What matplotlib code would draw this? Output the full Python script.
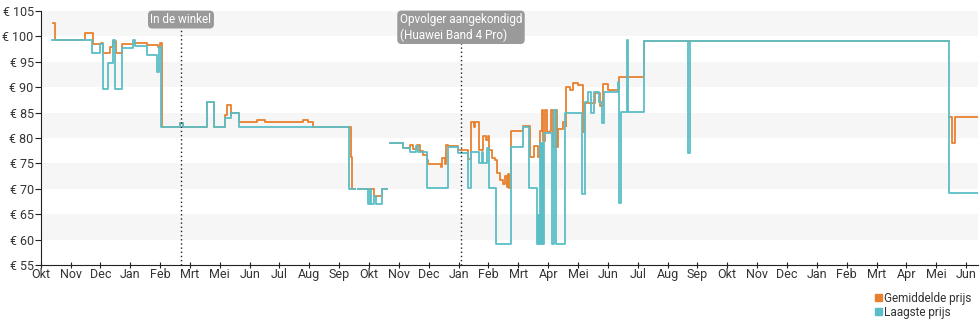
import numpy as np
import matplotlib
matplotlib.use("Agg")
import matplotlib.pyplot as plt
from matplotlib.patches import Patch

plt.rcParams["font.family"] = ["Roboto", "DejaVu Sans"]

# x in maanden vanaf de eerste tick (Okt), y in euro
maanden = ["Okt", "Nov", "Dec", "Jan", "Feb", "Mrt", "Mei", "Jun", "Jul", "Aug", "Sep",
           "Okt", "Nov", "Dec", "Jan", "Feb", "Mrt", "Apr", "Mei", "Jun", "Jul", "Aug",
           "Sep", "Okt", "Nov", "Dec", "Jan", "Feb", "Mrt", "Apr", "Mei", "Jun"]

laagste_x = [0.37, 1.71, 1.99, 2.08, 2.26, 2.42, 2.49, 2.71, 3.09, 3.16, 3.56, 3.90,
             3.98, 4.03, 4.67, 4.77, 5.56, 5.79, 6.17, 6.37, 6.63, 10.33, 10.53, 10.64,
             10.95, 11.02, 11.07, 11.17, 11.22, 11.42, 11.61, 11.70, 11.76, 11.81, 12.15,
             12.37, 12.57, 12.64, 12.93, 13.66, 13.98, 14.32, 14.41, 14.67, 14.77, 14.83,
             14.94, 15.03, 15.25, 15.75, 16.15, 16.37, 16.62, 16.67, 16.70, 16.74, 16.77,
             16.80, 16.84, 16.86, 17.12, 17.20, 17.25, 17.56, 18.12, 18.23, 18.34, 18.43,
             18.53, 18.70, 18.80, 18.86, 19.35, 19.37, 19.44, 19.65, 19.69, 20.21, 21.69,
             21.75, 30.42, 31.40]
laagste_y = [99.2, 96.7, 98.6, 89.6, 94.7, 99.2, 89.6, 97.7, 99.2, 98.1, 96.3, 93.0,
             98.0, 82.2, 83.0, 82.2, 87.1, 82.2, 83.9, 85.0, 82.2, 70.0, np.nan, 70.0,
             67.0, 70.0, 67.0, 68.5, 67.0, 70.0, np.nan, 79.0, np.nan, 79.0, 78.0,
             77.3, 78.5, 77.3, 70.1, 78.2, 77.1, 70.1, 77.3, 75.0, 77.3, 75.0,
             78.0, 70.1, 59.1, 78.2, 82.2, 70.1, 59.1, 64.8, 59.1, 79.0, 59.1,
             79.0, 59.1, 81.0, 59.1, 85.5, 59.1, 84.9, 68.9, 87.1, 89.1, 84.9,
             89.1, 87.1, 83.0, 89.1, 91.0, 67.2, 85.2, 99.3, 85.2, 99.1, 77.0,
             99.1, 69.1, 69.1]

gemiddeld_x = [0.40, 0.48, 1.48, 1.76, 2.02, 2.09, 2.32, 2.42, 2.51, 2.71, 3.16, 3.56,
               3.93, 4.01, 4.05, 4.67, 4.77, 5.56, 5.79, 6.17, 6.24, 6.36, 6.39, 6.64,
               7.25, 7.51, 8.79, 8.95, 9.11, 10.38, 10.42, 10.53, 10.64, 11.17, 11.42,
               11.61, 11.70, 11.76, 11.81, 12.15, 12.37, 12.47, 12.60, 12.71, 12.81, 12.93,
               12.99, 13.41, 13.46, 13.53, 13.59, 13.66, 13.98, 14.32, 14.41, 14.50, 14.55,
               14.68, 14.83, 14.92, 14.97, 15.03, 15.12, 15.22, 15.29, 15.39, 15.49, 15.56,
               15.62, 15.66, 15.69, 15.77, 16.15, 16.38, 16.53, 16.66, 16.73, 16.78, 16.84,
               16.89, 16.95, 17.06, 17.09, 17.17, 17.26, 17.29, 17.33, 17.50, 17.60, 17.61,
               17.73, 17.83, 18.00, 18.16, 18.23, 18.57, 18.74, 18.85, 19.02, 19.37, 20.21,
               30.42, 30.44, 30.52, 30.64, 31.40]
gemiddeld_y = [102.7, 99.2, 100.6, 98.6, 98.8, 96.8, 98.0, 99.0, 96.8, 98.6, 98.8, 98.4,
               97.9, 98.8, 82.2, 83.0, 82.2, 87.1, 82.2, 84.5, 86.5, 84.5, 85.0, 83.1,
               83.5, 83.1, 83.5, 83.1, 82.2, 76.3, 70.0, np.nan, 70.0, 68.5, 70.0,
               np.nan, 79.0, np.nan, 79.0, 78.0, 78.6, 77.8, 78.6, 77.5, 76.7, 75.7,
               74.8, 74.3, 76.0, 74.8, 78.6, 78.4, 77.7, 75.9, 83.2, 82.2, 83.2,
               77.6, 80.3, 79.6, 80.3, 77.6, 76.0, 75.7, 73.1, 71.8, 70.9, 72.5,
               70.3, 72.9, 70.2, 81.4, 82.4, 76.3, 78.5, 76.3, 81.4, 85.5, 79.5,
               85.5, 81.1, 81.4, 85.5, 78.3, 85.5, 78.3, 81.8, 83.2, 82.4, 90.1,
               89.4, 90.9, 90.4, 81.1, 86.8, 88.8, 86.3, 90.6, 89.4, 92.1, 99.1,
               np.nan, 84.1, 79.1, 84.1, 84.1]

gebeurtenissen = ["In de winkel", "Opvolger aangekondigd\n(Huawei Band 4 Pro)"]
gebeurtenis_x = [4.70, 14.08]

oranje = "#e8802d"
teal = "#5bbec7"

fig = plt.figure(figsize=(9.8, 3.25), dpi=100)
ax = fig.add_axes([0.0415, 0.1846, 0.9565, 0.7815])

# lichte banden
for lo in [60, 70, 80, 90, 100]:
    ax.axhspan(lo, lo + 5, color="#f6f6f6", lw=0, zorder=0)

ax.plot(gemiddeld_x, gemiddeld_y, drawstyle="steps-post", color=oranje, lw=1.3, zorder=3)
ax.plot(laagste_x, laagste_y, drawstyle="steps-post", color=teal, lw=1.3, zorder=4)

for label, xv in zip(gebeurtenissen, gebeurtenis_x):
    ax.axvline(xv, color="#222222", ls=(0, (1, 2)), lw=1, zorder=5)
    ax.text(xv, 104.6, label, ha="center", va="top", multialignment="left",
            color="white", fontsize=8.5, zorder=6,
            bbox=dict(boxstyle="round,pad=0.15,rounding_size=0.3", fc="#9a9a9a", ec="#9a9a9a"))

ax.set_xlim(0, 31.40)
ax.set_ylim(55, 105)
ax.set_xticks(np.arange(len(maanden)))
ax.set_xticklabels(maanden)
ax.set_yticks(np.arange(55, 106, 5))
ax.set_yticklabels(["€ %d" % v for v in np.arange(55, 106, 5)])

for s in ["top", "right"]:
    ax.spines[s].set_visible(False)
for s in ["left", "bottom"]:
    ax.spines[s].set_color("#222222")
ax.tick_params(axis="y", direction="out", length=4, pad=1, labelsize=9, colors="#222222",
               labelcolor="#333333")
ax.tick_params(axis="x", direction="inout", length=5, pad=0, labelsize=9, colors="#222222",
               labelcolor="#333333")

handles = [Patch(color=oranje, label="Gemiddelde prijs"), Patch(color=teal, label="Laagste prijs")]
fig.legend(handles=handles, loc="upper right", bbox_to_anchor=(1.0, 0.128), frameon=False,
           fontsize=8.5, handlelength=0.6, handleheight=0.6, handletextpad=0.2,
           labelspacing=0.1, borderpad=0.2, labelcolor="#333333")

fig.savefig("out.png", dpi=100)
